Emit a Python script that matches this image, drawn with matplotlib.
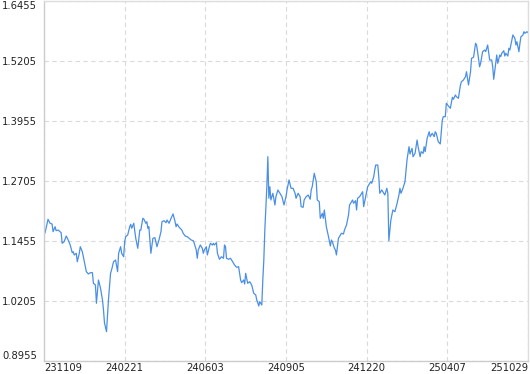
import matplotlib
matplotlib.use("Agg")
import matplotlib.pyplot as plt

# trading-day index and net value
days = [0, 1, 4, 6, 8, 9, 11, 12, 14, 17, 18, 20, 22, 24, 26, 28, 29, 30, 32, 33,
        35, 36, 38, 40, 42, 44, 46, 48, 49, 51, 52, 54, 56, 58, 59, 60, 62, 64, 66, 67,
        69, 71, 73, 74, 76, 77, 79, 80, 81, 83, 85, 86, 87, 89, 91, 93, 95, 96, 98, 99,
        101, 102, 103, 104, 106, 108, 110, 112, 114, 116, 117, 119, 121, 122, 124, 126, 128, 130, 131, 132,
        134, 136, 137, 138, 140, 142, 144, 146, 148, 149, 151, 152, 153, 155, 157, 158, 159, 161, 162, 164,
        165, 167, 168, 169, 171, 172, 174, 176, 178, 179, 180, 181, 183, 185, 187, 189, 191, 193, 195, 196,
        198, 199, 200, 202, 204, 205, 206, 208, 210, 211, 212, 213, 214, 216, 217, 218, 219, 221, 222, 223,
        224, 225, 227, 229, 230, 232, 234, 236, 238, 240, 241, 243, 245, 247, 249, 250, 252, 254, 255, 257,
        258, 260, 262, 264, 265, 266, 268, 270, 271, 273, 274, 276, 277, 278, 280, 282, 284, 285, 286, 288,
        289, 290, 292, 293, 295, 297, 298, 300, 302, 303, 305, 306, 307, 309, 310, 311, 313, 314, 316, 317,
        319, 320, 321, 323, 324, 325, 327, 328, 329, 331, 332, 333, 335, 338, 340, 341, 342, 344, 346, 348,
        350, 352, 353, 354, 356, 358, 360, 362, 363, 365, 366, 368, 370, 371, 373, 374, 376, 377, 378, 380,
        382, 383, 385, 387, 388, 389, 391, 393, 395, 396, 398, 399, 401, 403, 405, 406, 408, 409, 411, 413,
        414, 416, 418, 419, 421, 423, 424, 426, 428, 429, 430, 432, 433, 435, 437, 438, 440, 442, 444, 445,
        446, 448, 449, 450, 452, 453, 454, 456, 457, 458, 460, 461, 462, 464, 465, 467, 468, 469, 471, 472,
        473, 475, 476, 477, 479, 480]
nav = [1.1684, 1.1622, 1.1907, 1.1824, 1.1809, 1.1649, 1.1753, 1.1670, 1.1684, 1.1628,
       1.1407, 1.1441, 1.1559, 1.1476, 1.1372, 1.1211, 1.1232, 1.1164, 1.1199, 1.1024,
       1.1199, 1.1336, 1.1232, 1.1024, 1.0816, 1.0768, 1.0795, 1.0795, 1.0574, 1.0538,
       1.0157, 1.0643, 1.0476, 1.0226, 1.0018, 0.9747, 0.9566, 1.0250, 1.0782, 1.0851,
       1.1024, 1.1059, 1.0816, 1.1199, 1.1336, 1.1199, 1.1128, 1.1441, 1.1545, 1.1580,
       1.1753, 1.1803, 1.1720, 1.1824, 1.1511, 1.1303, 1.1684, 1.1680, 1.1928, 1.1913,
       1.1824, 1.1857, 1.1720, 1.1753, 1.1199, 1.1511, 1.1524, 1.1336, 1.1476, 1.1649,
       1.1857, 1.1878, 1.1836, 1.1893, 1.1824, 1.1928, 1.2018, 1.1857, 1.1753, 1.1809,
       1.1741, 1.1699, 1.1670, 1.1616, 1.1559, 1.1545, 1.1511, 1.1476, 1.1461, 1.1407,
       1.1268, 1.1095, 1.1268, 1.1372, 1.1303, 1.1199, 1.1268, 1.1336, 1.1164, 1.1336,
       1.1407, 1.1372, 1.1407, 1.1372, 1.1420, 1.1199, 1.1074, 1.1128, 1.1095, 1.1372,
       1.1336, 1.1095, 1.1074, 1.1095, 1.1024, 1.0955, 1.0907, 1.0920, 1.0643, 1.0586,
       1.0643, 1.0559, 1.0782, 1.0574, 1.0607, 1.0574, 1.0538, 1.0366, 1.0330, 1.0226,
       1.0170, 1.0101, 1.0191, 1.0122, 1.0643, 1.1059, 1.1684, 1.2586, 1.3211, 1.2345,
       1.2586, 1.2309, 1.2449, 1.2205, 1.2378, 1.2518, 1.2449, 1.2378, 1.2205, 1.2378,
       1.2518, 1.2726, 1.2553, 1.2553, 1.2449, 1.2345, 1.2449, 1.2378, 1.2170, 1.2157,
       1.2309, 1.2378, 1.2413, 1.2324, 1.2518, 1.2586, 1.2866, 1.2691, 1.2309, 1.2274,
       1.1928, 1.2032, 1.1928, 1.2101, 1.1753, 1.1559, 1.1351, 1.1476, 1.1441, 1.1303,
       1.1268, 1.1164, 1.1511, 1.1545, 1.1616, 1.1601, 1.1684, 1.1789, 1.1997, 1.2205,
       1.2274, 1.2309, 1.2241, 1.2295, 1.2101, 1.2345, 1.2378, 1.2413, 1.2482, 1.2170,
       1.2378, 1.2482, 1.2586, 1.2657, 1.2691, 1.2657, 1.2795, 1.2934, 1.3038, 1.3038,
       1.2795, 1.2449, 1.2518, 1.2413, 1.2553, 1.2449, 1.1461, 1.1893, 1.2101, 1.2066,
       1.2226, 1.2413, 1.2553, 1.2449, 1.2553, 1.2691, 1.3143, 1.3420, 1.3268, 1.3386,
       1.3211, 1.3282, 1.3559, 1.3420, 1.3211, 1.3316, 1.3282, 1.3420, 1.3316, 1.3595,
       1.3732, 1.3628, 1.3699, 1.3628, 1.3732, 1.3699, 1.3524, 1.3476, 1.3976, 1.4045,
       1.4045, 1.4324, 1.4268, 1.4220, 1.4449, 1.4407, 1.4497, 1.4461, 1.4428, 1.4705,
       1.4774, 1.4809, 1.4878, 1.4982, 1.4705, 1.4982, 1.5261, 1.5282, 1.5574, 1.5538,
       1.5399, 1.5086, 1.5157, 1.5399, 1.5434, 1.5399, 1.5538, 1.5226, 1.5226, 1.5086,
       1.4824, 1.5157, 1.5330, 1.5157, 1.5330, 1.5295, 1.5366, 1.5420, 1.5309, 1.5366,
       1.5309, 1.5470, 1.5434, 1.5643, 1.5747, 1.5678, 1.5538, 1.5607, 1.5399, 1.5574,
       1.5711, 1.5747, 1.5816, 1.5782, 1.5816, 1.5795]

tick_days = [0, 80, 160, 240, 320, 400, 480]
tick_labels = ["231109", "240221", "240603", "240905", "241220", "250407", "251029"]
y_ticks = [0.8955, 1.0205, 1.1455, 1.2705, 1.3955, 1.5205, 1.6455]

W, H = 530, 374
fig = plt.figure(figsize=(W / 100, H / 100), dpi=100)
ax = fig.add_axes([44 / W, 13 / H, 484 / W, 360 / H])

ax.plot(days, nav, color="#4a8fe7", lw=0.9)

ax.set_xlim(0, 480)
ax.set_ylim(y_ticks[0], y_ticks[-1])
ax.set_xticks(tick_days)
ax.set_yticks(y_ticks)
ax.set_xticklabels(tick_labels)
ax.set_yticklabels([f"{v:.4f}" for v in y_ticks])
ax.tick_params(length=0, labelsize=7.2, colors="#222222")
ax.tick_params(axis="x", pad=1.5)
ax.tick_params(axis="y", pad=5)

xl = ax.get_xticklabels()
xl[0].set_ha("left")
xl[-1].set_ha("right")
yl = ax.get_yticklabels()
yl[0].set_va("bottom")
yl[-1].set_va("top")

ax.grid(True, ls=(0, (4, 3)), color="#dadada", lw=0.8)
for s in ax.spines.values():
    s.set_color("#dddddd")
    s.set_linewidth(1.0)
ax.spines["left"].set_color("#cccccc")
ax.spines["bottom"].set_color("#cccccc")

fig.savefig("out.png", dpi=100)
